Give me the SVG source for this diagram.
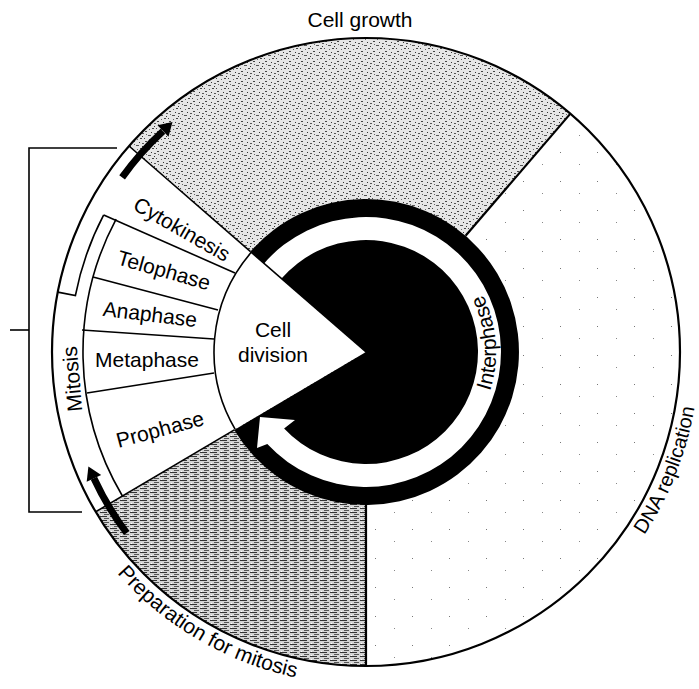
<svg xmlns="http://www.w3.org/2000/svg" width="699" height="689" viewBox="0 0 699 689">
<defs>
<style>
.lbl{font-family:"Liberation Sans",Arial,sans-serif;font-size:21px;fill:#000}
.mid{text-anchor:middle}
.ctr{text-anchor:middle;dominant-baseline:central}
.ln{fill:none;stroke:#000;stroke-width:1.6}
.thick{fill:none;stroke:#000;stroke-width:2.2}
.shaft{fill:none;stroke:#000;stroke-width:7}
.head{fill:#000;stroke:none}
</style>
<pattern id="stipple" width="12" height="10" patternUnits="userSpaceOnUse">
<rect width="12" height="10" fill="#e6e6e6"/>
<rect x="1" y="1" width="2" height="1" fill="#444"/>
<rect x="7" y="2" width="1" height="1" fill="#333"/>
<rect x="10" y="3" width="2" height="1" fill="#555"/>
<rect x="4" y="5" width="3" height="1" fill="#555"/>
<rect x="10" y="6" width="1" height="1" fill="#333"/>
<rect x="0" y="8" width="1" height="1" fill="#444"/>
<rect x="8" y="8" width="2" height="1" fill="#444"/>
<rect x="5" y="9" width="1" height="1" fill="#666"/>
<rect x="2" y="4" width="1" height="1" fill="#666"/>
</pattern>
<pattern id="hatch" width="10" height="4" patternUnits="userSpaceOnUse">
<rect width="10" height="4" fill="#d4d4d4"/>
<rect x="0" y="0" width="7" height="1" fill="#333"/>
<rect x="4" y="2" width="5" height="1" fill="#555"/>
<rect x="1" y="3" width="1" height="1" fill="#fff"/>
</pattern>
<pattern id="sparse" width="37" height="29" patternUnits="userSpaceOnUse">
<rect width="37" height="29" fill="#fff"/>
<rect x="5" y="7" width="1" height="1" fill="#777"/>
<rect x="24" y="19" width="1" height="1" fill="#888"/>
</pattern>
<path id="outerTextPath" d="M 38.1,409.8 A 333 333 0 1 0 654.4,185.5"/>
<path id="interPath" d="M 431,464.6 A 130 130 0 0 0 431,239.4"/>
</defs>
<rect width="699" height="689" fill="#fff"/>

<g id="outer-circle-fill"><circle cx="366" cy="352" r="314" fill="#fff"/></g>

<g id="cell-growth">
<path d="M366,352 L129,146 A314 314 0 0 1 570.4,113.6 Z" fill="url(#stipple)"/>
<text class="lbl mid" x="360" y="27">Cell growth</text>
</g>

<g id="dna-replication">
<path d="M366,352 L570.4,113.6 A314 314 0 0 1 366,666 Z" fill="url(#sparse)"/>
<text class="lbl" style="font-size:20px"><textPath href="#outerTextPath" startOffset="863" text-anchor="middle">DNA replication</textPath></text>
</g>

<g id="preparation">
<path d="M366,352 L366,666 A314 314 0 0 1 95.7,511.8 Z" fill="url(#hatch)"/>
<text class="lbl"><textPath href="#outerTextPath" startOffset="289" text-anchor="middle">Preparation for mitosis</textPath></text>
</g>

<g id="outline">
<circle cx="366" cy="352" r="314" class="thick"/>
<line class="ln" x1="250.5" y1="251.6" x2="129" y2="146"/>
<line class="thick" x1="465.6" y1="235.8" x2="570.4" y2="113.6"/>
<line class="thick" x1="366" y1="505" x2="366" y2="666"/>
<line class="ln" x1="234.3" y1="429.9" x2="95.7" y2="511.8"/>
<path class="ln" d="M140.3,155.8 A 305 305 0 0 1 150,145"/>
</g>

<g id="mitosis">
<path class="ln" d="M57.8,292.1 L75.4,295.5 A296 296 0 0 1 103.7,214.9"/>
<text class="lbl ctr" transform="translate(72,379) rotate(-95)">Mitosis</text>
</g>

<g id="phase-band">
<path class="ln" d="M122.4,496 A283 283 0 0 1 116.1,219.1"/>
<path class="ln" d="M235.2,429.4 A152 152 0 0 1 251.3,252.3"/>
</g>

<g id="cytokinesis">
<text class="lbl ctr" transform="translate(182,229) rotate(30)">Cytokinesis</text>
</g>
<g id="telophase">
<line class="ln" x1="103.7" y1="214.9" x2="235" y2="273"/>
<text class="lbl ctr" transform="translate(164,270) rotate(16)">Telophase</text>
</g>
<g id="anaphase">
<line class="ln" x1="93" y1="277" x2="218" y2="310"/>
<text class="lbl ctr" transform="translate(150,314) rotate(7)">Anaphase</text>
</g>
<g id="metaphase">
<line class="ln" x1="82" y1="330" x2="214" y2="339"/>
<text class="lbl ctr" transform="translate(147,359)">Metaphase</text>
</g>
<g id="prophase">
<line class="ln" x1="87" y1="393" x2="214" y2="373"/>
<text class="lbl ctr" transform="translate(160,429) rotate(-15)">Prophase</text>
</g>

<g id="interphase">
<path d="M366,352 L250.5,251.6 A153 153 0 1 1 234.3,429.9 Z" fill="#000"/>
<path d="M264.1,263.4 A135 135 0 1 1 267.3,444.1 L257,448 L260,417 L295,420 L284.1,428.4 A112 112 0 1 0 281.5,278.5 Z" fill="#fff"/>
<line class="ln" x1="366" y1="352" x2="250.5" y2="251.6"/>
<text class="lbl"><textPath href="#interPath" startOffset="146" text-anchor="middle">Interphase</textPath></text>
</g>

<g id="cell-division">
<text class="lbl mid" x="273" y="337">Cell</text>
<text class="lbl mid" x="273" y="362">division</text>
</g>

<g id="connectors">
<path class="shaft" d="M122.1,177.4 A300 300 0 0 1 162.9,131.2"/>
<polygon class="head" points="157.5,125.2 172.5,122.1 168.5,136.8"/>
<path class="shaft" d="M126.7,533 A300 300 0 0 1 93.9,478.3"/>
<polygon class="head" points="101.2,474.9 88.4,466.5 86.7,481.7"/>
</g>

<g id="bracket">
<path class="ln" d="M117,148 H29 V512 H82"/>
<line class="ln" x1="10" y1="330" x2="29" y2="330"/>
</g>
</svg>
